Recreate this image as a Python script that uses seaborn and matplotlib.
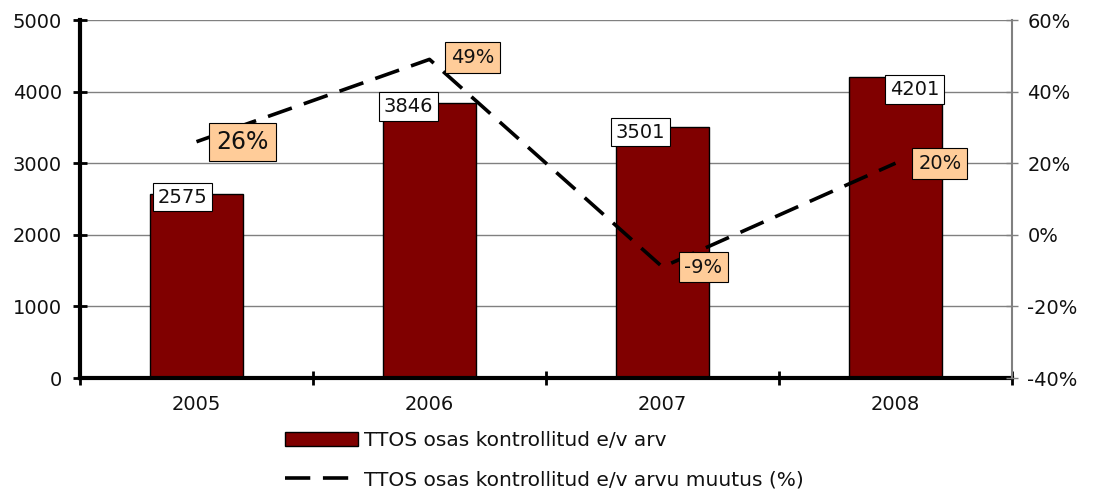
import matplotlib
matplotlib.use("Agg")
import matplotlib.pyplot as plt
import seaborn as sns
import pandas as pd
from matplotlib.ticker import FixedLocator, FuncFormatter

years = ["2005", "2006", "2007", "2008"]
counts = [2575, 3846, 3501, 4201]
change_pct = [26, 49, -9, 20]
bar_label = "TTOS osas kontrollitud e/v arv"
line_label = "TTOS osas kontrollitud e/v arvu muutus (%)"

sns.set_theme(style="white")
plt.rcParams['font.family'] = ['DejaVu Sans']

df = pd.DataFrame({"year": years, "count": counts, "pct": change_pct})
df["pos"] = range(len(years))

fig = plt.figure(figsize=(10.93, 4.90), dpi=100)
ax = fig.add_axes([80/1093, 1-378/490, (1012-80)/1093, (378-20)/490])

sns.barplot(data=df, x="year", y="count", ax=ax, color="#800000",
            edgecolor="black", linewidth=1, width=0.4, saturation=1,
            label=bar_label, zorder=2)
ax.set_xlim(-0.5, 3.5)
ax.set_ylim(0, 5000)
ax.set_yticks(range(0, 5001, 1000))
ax.yaxis.grid(True, color="#808080", linewidth=1)
ax.set_axisbelow(True)
ax.set_xlabel("")
ax.set_ylabel("")
# category boundaries as major ticks, labels at centers
ax.xaxis.set_major_locator(FixedLocator([-0.5, 0.5, 1.5, 2.5, 3.5]))
ax.xaxis.set_minor_locator(FixedLocator(df["pos"].tolist()))
ax.xaxis.set_major_formatter(FuncFormatter(lambda v, p: ""))
ax.xaxis.set_minor_formatter(FuncFormatter(lambda v, p: years[int(round(v))]))
ax.tick_params(axis="x", which="major", direction="inout", length=10, width=2, color="black", bottom=True)
ax.tick_params(axis="x", which="minor", length=0, labelsize=14, pad=12, colors="#111111")
ax.tick_params(axis="y", direction="inout", length=10, width=2, color="black", left=True,
               labelsize=14, pad=8, labelcolor="#111111")
ax.spines["top"].set_visible(False)
ax.spines["left"].set_color("black")
ax.spines["left"].set_linewidth(3)
ax.spines["bottom"].set_color("black")
ax.spines["bottom"].set_linewidth(3)
ax.spines["right"].set_visible(False)

ax2 = ax.twinx()
sns.lineplot(data=df, x="pos", y="pct", ax=ax2, color="black", linewidth=2.6,
             label=line_label, zorder=3)
ax2.lines[0].set_dashes((7, 3.5))
ax2.set_ylim(-40, 60)
ax2.set_yticks(range(-40, 61, 20))
ax2.yaxis.set_major_formatter(FuncFormatter(lambda v, p: f"{int(v)}%"))
ax2.set_xlim(-0.5, 3.5)
ax2.set_ylabel("")
ax2.set_xlabel("")
ax2.tick_params(axis="y", direction="inout", length=8, width=1, color="#808080", right=True,
                labelsize=14, pad=7, labelcolor="#111111")
ax2.spines["right"].set_color("#808080")
ax2.spines["right"].set_linewidth(1.5)
for s in ["top", "left", "bottom"]:
    ax2.spines[s].set_visible(False)
if ax2.get_legend():
    ax2.get_legend().remove()
if ax.get_legend():
    ax.get_legend().remove()

# bar value labels (manual Excel placement offsets, in points)
bar_offsets = [(-10, -2.5), (-15, -3), (-16, -3.4), (14, -9)]
for i, (v, off) in enumerate(zip(counts, bar_offsets)):
    ax.annotate(f"{v}", xy=(i, v), xytext=off, textcoords="offset points",
                ha="center", va="center", fontsize=14, zorder=5, color="#111111",
                bbox=dict(boxstyle="square,pad=0.25", fc="white", ec="black", lw=0.8))

pct_offsets = [(33, 0), (31, 1.5), (29.5, 0), (32, 0)]
pct_sizes = [17, 14, 14, 14]
for i, (v, off, fs) in enumerate(zip(change_pct, pct_offsets, pct_sizes)):
    ax2.annotate(f"{v}%", xy=(i, v), xytext=off, textcoords="offset points",
                 ha="center", va="center", fontsize=fs, zorder=6, color="#111111",
                 bbox=dict(boxstyle="square,pad=0.3", fc="#FFCC99", ec="black", lw=0.8))

h1, l1 = ax.get_legend_handles_labels()
h2, l2 = ax2.get_legend_handles_labels()
leg = fig.legend(h1[:1] + h2[:1], [bar_label, line_label], loc="upper left",
                 bbox_to_anchor=(267/1093, 1-413/490), frameon=False, fontsize=14.5,
                 handlelength=3.6, handleheight=0.7, labelspacing=1.0, handletextpad=0.3)
for t in leg.get_texts():
    t.set_color("#111111")

fig.savefig("out.png", dpi=100, facecolor="white")
